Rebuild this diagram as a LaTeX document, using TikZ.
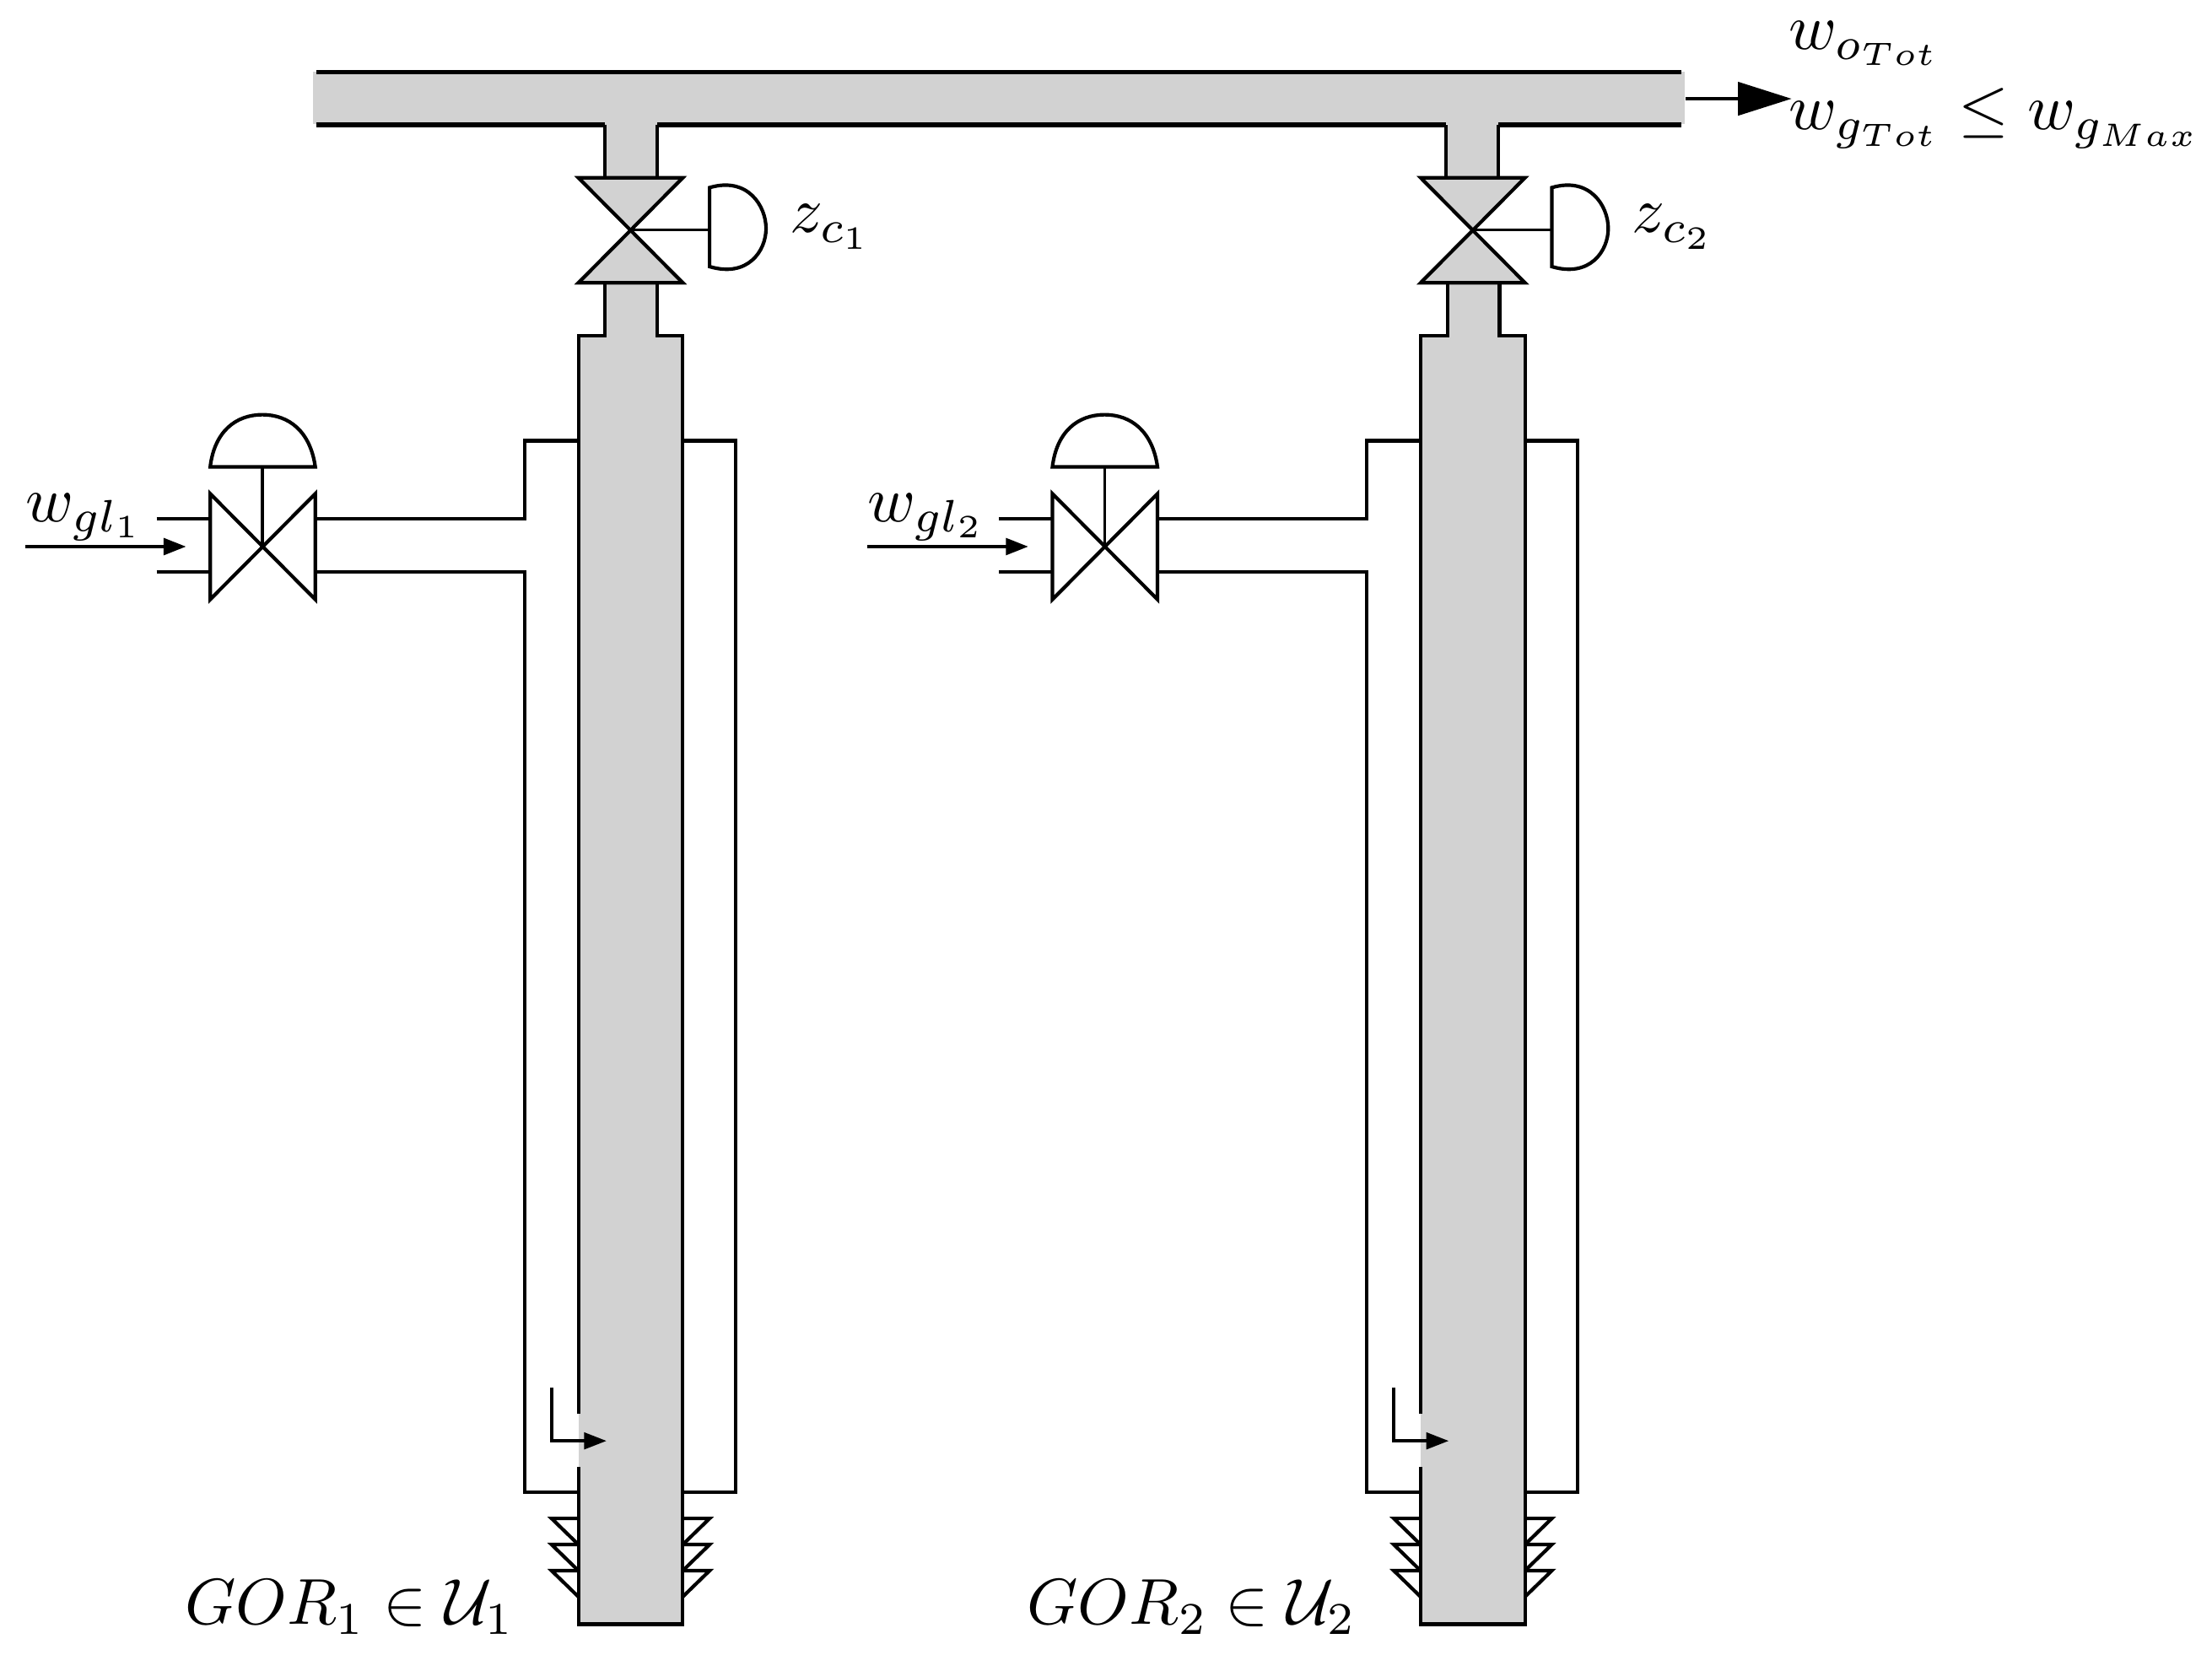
\documentclass[tikz,border=0pt]{standalone}
\usetikzlibrary{arrows.meta}
\definecolor{pipegrey}{RGB}{210,210,210}
\tikzset{
  wall/.style={draw=black,line width=1.25pt,line join=miter},
  headwall/.style={draw=black,line width=1.5pt,line join=miter},
  thinline/.style={draw=black,line width=1.05pt},
  lab/.style={anchor=base west,inner sep=0pt,outer sep=0pt,scale=2.3},
  smalltip/.style={draw=black,line width=1.4pt,-{Triangle[length=8pt,width=5.8pt]}},
  bigtip/.style={draw=black,line width=1.25pt,-{Triangle[length=19pt,width=11.7pt]}}
}
\begin{document}
\begin{tikzpicture}[x=0.5pt,y=-0.5pt]
\useasboundingbox (0,0) rectangle (1568,1173.3);
% manifold
\fill[pipegrey] (222,51) rectangle (1194,88);
\foreach \dx in {0,597}{
  \begin{scope}[shift={(\dx,0)}]
    \fill[pipegrey] (429,88) rectangle (466,127);
    \fill[pipegrey] (429,199) rectangle (466,240);
    \fill[pipegrey] (410,238) rectangle (484,1151.5);
  \end{scope}
}
\draw[headwall] (224,51) -- (1192,51);
\draw[headwall] (224,88.5) -- (429,88.5);
\draw[wall] (429,88.5) -- (429,126);
\draw[wall] (466,126) -- (466,88.5);
\draw[headwall] (466,88.5) -- (1025,88.5);
\draw[wall] (1025,88.5) -- (1025,126);
\draw[wall] (1062,126) -- (1062,88.5);
\draw[headwall] (1062,88.5) -- (1192,88.5);
\coordinate (outS) at (1195,70);
\coordinate (outE) at (1270,70);
\draw[bigtip] (outS) -- (outE);
\node[lab] (woTot) at (1268,35) {$w_{o_{Tot}}$};
\node[lab] (wgTot) at (1268,92) {$w_{g_{Tot}}\leq w_{g_{Max}}$};
% wells
\foreach \n/\dx in {1/0,2/597}{
  \begin{scope}[shift={(\dx,0)}]
    % tubing
    \draw[wall] (429,200) -- (429,238) -- (410,238) -- (410,1002);
    \draw[wall] (410,1040) -- (410,1151.5) -- (484,1151.5) -- (484,238) -- (466,238) -- (466,200);
    % production choke
    \draw[wall,fill=pipegrey] (410,126) -- (484,126) -- (410,200.5) -- (484,200.5) -- cycle;
    \coordinate (chokeC\n) at (447,163);
    \coordinate (chokeA\n) at (503,163);
    \draw[thinline] (chokeC\n) -- (chokeA\n);
    \draw[wall] (503,133) .. controls (530,125) and (543,146) .. (543,162)
                .. controls (543,178) and (530,197) .. (503,189) -- cycle;
    \node[lab] (zc\n) at (560,165) {$z_{c_\n}$};
    % gas lift choke
    \draw[wall] (149,350) -- (149,425) -- (223.5,350) -- (223.5,425) -- cycle;
    \coordinate (liftC\n) at (186,387.5);
    \coordinate (liftA\n) at (186,331);
    \draw[thinline] (liftA\n) -- (liftC\n);
    \draw[wall] (149,331) .. controls (152,306) and (167,294) .. (186,294)
                .. controls (205,294) and (220,306) .. (223.5,331) -- cycle;
    \draw[wall] (111,368) -- (149,368);
    \draw[wall] (111,405.5) -- (149,405.5);
    \coordinate (inS\n) at (18,387.5);
    \coordinate (inE\n) at (132,387.5);
    \draw[smalltip] (inS\n) -- (inE\n);
    \node[lab] (wgl\n) at (18,370) {$w_{gl_\n}$};
    % annulus
    \draw[wall] (224,368) -- (372,368) -- (372,312.5) -- (409,312.5);
    \draw[wall] (224,405.5) -- (372,405.5) -- (372,1058) -- (409,1058);
    \draw[wall] (485,312.5) -- (521.5,312.5) -- (521.5,1058) -- (485,1058);
    % injection valve
    \coordinate (injT\n) at (391,984);
    \coordinate (injB\n) at (391,1021.5);
    \coordinate (injE\n) at (430,1021.5);
    \draw[wall] (injT\n) -- (injB\n) -- (414,1021.5);
    \draw[draw=black,line width=1.25pt,-{Triangle[length=8pt,width=5.8pt]}] (410,1021.5) -- (injE\n);
    % reservoir inflow
    \foreach \y in {1076.5,1095,1113.5}{
      \draw[wall] (410,\y) -- (391,\y) -- (410,\y+18.5);
      \draw[wall] (484,\y) -- (503,\y) -- (484,\y+18.5);
    }
    \node[lab] (gor\n) at (131,1151.5) {$GOR_\n\in\mathcal{U}_\n$};
  \end{scope}
}
\end{tikzpicture}
\end{document}
